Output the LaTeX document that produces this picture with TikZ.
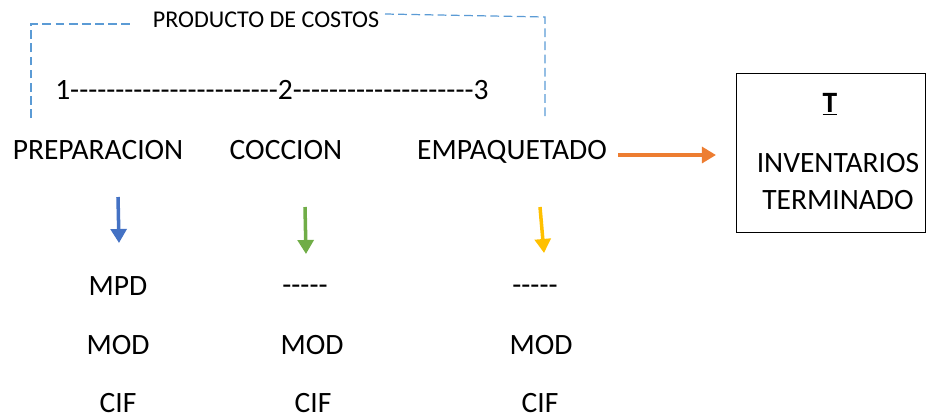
\documentclass[tikz,border=0pt]{standalone}
\usepackage{fontspec}
\setmainfont{Carlito}[Ligatures=TeXOff]
\usetikzlibrary{arrows.meta}
\definecolor{dashblue}{RGB}{91,155,213}
\definecolor{arrblue}{RGB}{68,114,196}
\definecolor{arrgreen}{RGB}{112,173,71}
\definecolor{arryellow}{RGB}{255,192,0}
\definecolor{arrorange}{RGB}{237,125,49}
\begin{document}
\begin{tikzpicture}[
        x=0.02cm, y=-0.02cm,
        label/.style={inner sep=0pt, anchor=base, font=\fontsize{16.8}{20}\selectfont},
        small/.style={inner sep=0pt, anchor=base, font=\fontsize{13.7}{16}\selectfont},
        bracket/.style={dashblue, dash pattern=on 5pt off 2.5pt, line width=0.7pt},
        arrow/.style={-{Triangle[length=8pt, width=9pt]}, line width=2pt},
        box/.style={draw, line width=1pt, minimum width=189*0.02cm, minimum height=159*0.02cm}
    ]
    \useasboundingbox (0,0) rectangle (926,417);

    % titulo y corchete
    \node[small] (titulo) at (266,27) {PRODUCTO DE COSTOS};
    \coordinate (bl0) at (31,118);
    \coordinate (bl1) at (31,24);
    \coordinate (bl2) at (131,24);
    \coordinate (br0) at (385,14);
    \coordinate (br1) at (545,17);
    \coordinate (br2) at (545,118);
    \draw[bracket] (bl0) -- (bl1) -- (bl2);
    \draw[bracket] (br0) -- (br1) -- (br2);

    \node[label] (linea) at (272,99) {1-----------------------2--------------------3};

    % procesos
    \node[label] (prep) at (98,159) {PREPARACION};
    \node[label] (cocc) at (286,159) {COCCION};
    \node[label] (empa) at (512,159) {EMPAQUETADO};

    % inventario
    \node[box] (inv) at (831,153) {};
    \node[label] (t) at (830,112) {\underline{\textbf{T}}};
    \node[label] (inv1) at (838,172) {INVENTARIOS};
    \node[label] (inv2) at (838,209) {TERMINADO};
    \coordinate (oa) at (618,155);
    \coordinate (ob) at (716,155);
    \draw[arrow, arrorange] (oa) -- (ob);

    % costos
    \node[label] (mpd) at (118,295) {MPD};
    \node[label] (mod1) at (118,354) {MOD};
    \node[label] (cif1) at (118,412) {CIF};
    \node[label] (gui2) at (305,294) {-----};
    \node[label] (mod2) at (312,354) {MOD};
    \node[label] (cif2) at (313,412) {CIF};
    \node[label] (gui3) at (535,294) {-----};
    \node[label] (mod3) at (541,354) {MOD};
    \node[label] (cif3) at (540,412) {CIF};

    \coordinate (a1) at (118,197);
    \coordinate (b1) at (119,243);
    \coordinate (a2) at (305,207);
    \coordinate (b2) at (306,254);
    \coordinate (a3) at (540,207);
    \coordinate (b3) at (544,253);
    \draw[arrow, arrblue] (a1) -- (b1);
    \draw[arrow, arrgreen] (a2) -- (b2);
    \draw[arrow, arryellow] (a3) -- (b3);

\end{tikzpicture}
\end{document}
